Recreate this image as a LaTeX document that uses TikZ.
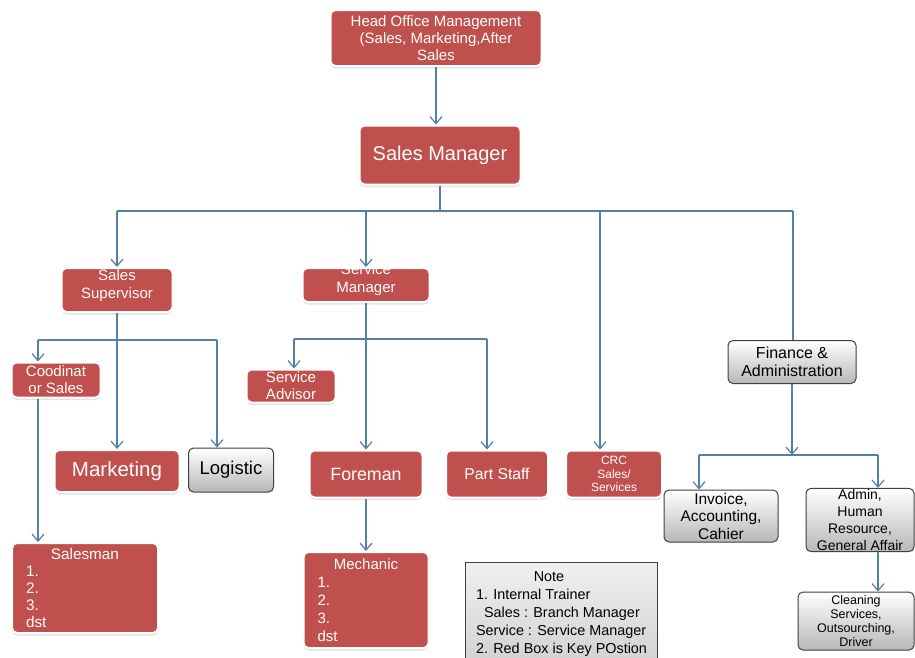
\documentclass[tikz,border=0pt]{standalone}
\usepackage{fontspec}
\setmainfont{Liberation Sans}
\usetikzlibrary{arrows.meta,shadows}
\definecolor{boxred}{RGB}{192,80,77}
\definecolor{linec}{RGB}{84,128,165}
\tikzset{
  redbox/.style={fill=boxred, draw=white, line width=2pt, rounded corners=5pt, text=white,
    align=center, inner sep=1pt,
    drop shadow={shadow xshift=0pt, shadow yshift=-2.5pt, fill=black!22}},
  graybox/.style={top color=white, bottom color=black!28, draw=black!75, line width=1pt,
    rounded corners=5pt, text=black, align=center, inner sep=1pt},
  conn/.style={draw=linec, line width=1.2pt},
  arr/.style={conn, -{Straight Barb[length=7pt,width=12pt,line width=1.2pt]}},
}
\begin{document}
\begin{tikzpicture}[x=1pt,y=-1pt]
\useasboundingbox (0,0) rectangle (915,657);
\clip (0,0) rectangle (915,657);
\fill[white] (0,0) rectangle (915,657);

% nodes
\node[redbox, minimum width=211pt, minimum height=56pt, font=\fontsize{15}{17}\selectfont] (ho) at (436,38)
  {Head Office Management\\(Sales, Marketing,After\\Sales};
\node[redbox, minimum width=161pt, minimum height=59pt, font=\fontsize{20}{23}\selectfont] (sm) at (440,155) {Sales Manager};
\node[redbox, minimum width=111pt, minimum height=44pt] (ss) at (117,290) {};
\node[text=white, align=center, inner sep=0pt, font=\fontsize{15}{18}\selectfont] (sst) at (117,286) {Sales\\Supervisor};
\node[redbox, minimum width=127pt, minimum height=34pt] (svm) at (366,285) {};
\node[text=white, align=center, inner sep=0pt, font=\fontsize{15}{18}\selectfont] (svmt) at (366,280) {Service\\Manager};
\node[redbox, minimum width=89pt, minimum height=35pt, font=\fontsize{15}{17}\selectfont] (co) at (56,380) {Coodinat\\or Sales};
\node[redbox, minimum width=89pt, minimum height=33pt, font=\fontsize{15}{17}\selectfont] (sa) at (291,386) {Service\\Advisor};
\node[redbox, minimum width=125pt, minimum height=42pt, font=\fontsize{20.5}{23}\selectfont] (mk) at (117,471) {Marketing};
\node[graybox, minimum width=85pt, minimum height=44pt, font=\fontsize{18.5}{21}\selectfont] (lg) at (231,470) {Logistic};
\node[redbox, minimum width=113pt, minimum height=47pt, font=\fontsize{17.8}{20}\selectfont] (fm) at (366,474) {Foreman};
\node[redbox, minimum width=102pt, minimum height=47pt, font=\fontsize{15.7}{18}\selectfont] (ps) at (497,474) {Part Staff};
\node[redbox, minimum width=96pt, minimum height=47pt, font=\fontsize{12}{13.5}\selectfont] (crc) at (614,474) {CRC\\Sales/\\Services};
\node[graybox, minimum width=128pt, minimum height=43pt, font=\fontsize{16}{18}\selectfont] (fin) at (792,362) {Finance \&\\Administration};
\node[graybox, minimum width=114pt, minimum height=52pt, font=\fontsize{15.5}{17.5}\selectfont] (inv) at (721,516) {Invoice,\\Accounting,\\Cahier};
\node[graybox, minimum width=108pt, minimum height=59pt, font=\fontsize{14}{17}\selectfont] (adm) at (860,520) {Admin,\\Human\\Resource,\\General Affair};
\node[graybox, minimum width=116pt, minimum height=58pt, font=\fontsize{12.5}{14}\selectfont] (cl) at (856,621) {Cleaning\\Services,\\Outsourching,\\Driver};
\node[redbox, minimum width=146pt, minimum height=90pt, text width=118pt, align=left, font=\fontsize{15.3}{17}\selectfont] (sal) at (85,588)
  {\makebox[118pt]{Salesman}\\1.\\2.\\3.\\dst};
\node[redbox, minimum width=125pt, minimum height=96pt, text width=97pt, align=left, font=\fontsize{15}{18}\selectfont] (mech) at (366,600)
  {\makebox[97pt]{Mechanic}\\1.\\2.\\3.\\dst};
\node[draw=black!75, line width=1pt, top color=black!6, bottom color=black!18, minimum width=192pt, minimum height=104pt,
  anchor=north west, align=left, inner xsep=6pt, inner ysep=2pt, font=\fontsize{14.4}{18}\selectfont] (note) at (465,562)
  {\makebox[146pt]{Note}\\1. Internal Trainer\\\ \ Sales : Branch Manager\\Service : Service Manager\\2. Red Box is Key POstion};

% coordinates
\coordinate (busL) at (117,211);
\coordinate (busR) at (793,211);
\coordinate (bsvm) at (366,211);
\coordinate (bcrc) at (600,211);
\coordinate (cL) at (38,340);
\coordinate (cR) at (217,340);
\coordinate (sL) at (294,339);
\coordinate (sR) at (487,339);
\coordinate (fL) at (699,455);
\coordinate (fR) at (878,455);

% connectors
\draw[arr] (ho.south) -- (ho.south |- sm.north);
\draw[conn] (sm.south) -- (sm.south |- busL);
\draw[conn] (busL) -- (busR);
\draw[arr] (busL) -- (ss.north);
\draw[arr] (bsvm) -- (svm.north);
\draw[arr] (bcrc) -- (bcrc |- crc.north);
\draw[conn] (busR) -- (busR |- fin.north);

\draw[arr] (ss.south) -- (mk.north);
\draw[conn] (cL) -- (cR);
\draw[arr] (cL) -- (cL |- co.north);
\draw[arr] (cR) -- (cR |- lg.north);
\draw[arr] (co.south -| cL) -- (cL |- sal.north);

\draw[arr] (svm.south) -- (fm.north);
\draw[conn] (sL) -- (sR);
\draw[arr] (sL) -- (sL |- sa.north);
\draw[arr] (sR) -- (sR |- ps.north);
\draw[arr] (fm.south) -- (mech.north);

\draw[arr] (fin.south) -- (fin.south |- fL);
\draw[conn] (fL) -- (fR);
\draw[arr] (fL) -- (fL |- inv.north);
\draw[arr] (fR) -- (fR |- adm.north);
\draw[arr] (adm.south -| fR) -- (fR |- cl.north);
\end{tikzpicture}
\end{document}
